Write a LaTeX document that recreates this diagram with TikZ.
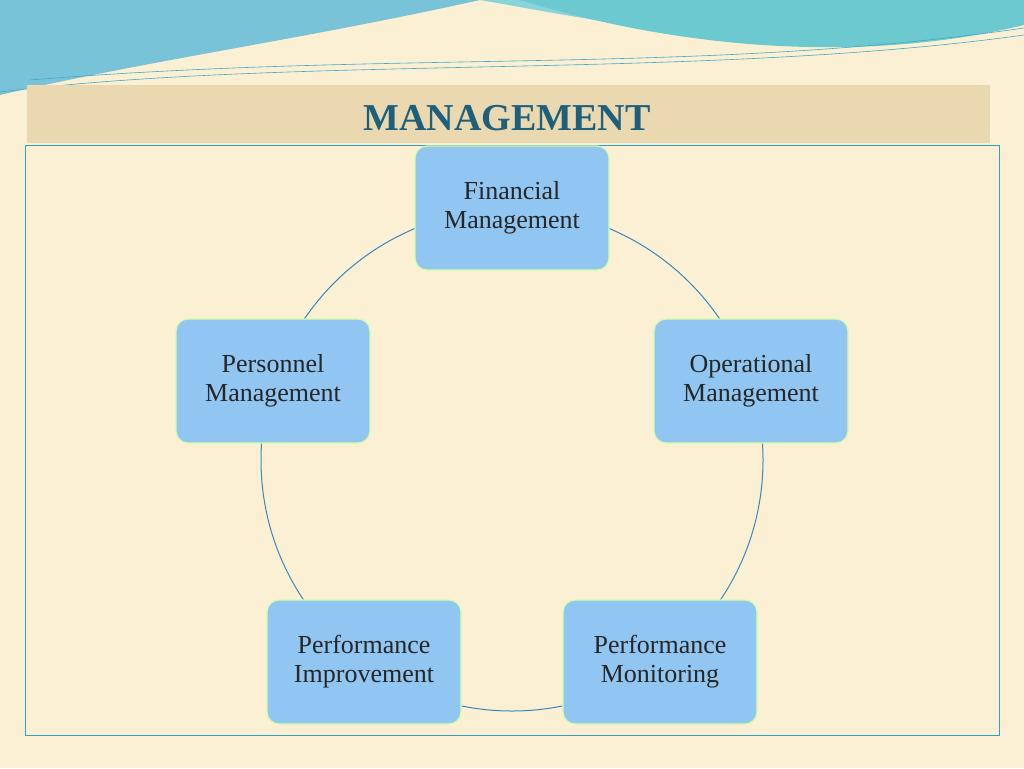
\documentclass[tikz,border=0pt]{standalone}
\usepackage{fontspec}
\setmainfont{Liberation Serif}
\newfontfamily\titlefont{Liberation Serif}
\begin{document}
\begin{tikzpicture}[x=1pt,y=-1pt,
  mbox/.style={draw=green!30!lime!35!white, line width=1.2pt, fill=boxblue, rounded corners=12pt,
    minimum width=194pt, minimum height=124pt, align=center, font=\fontsize{26}{29}\selectfont, text=black!85},
  ring/.style={draw=ringblue, line width=1pt}]
\definecolor{cream}{HTML}{FBF0D3}
\definecolor{tan}{HTML}{E9D8B0}
\definecolor{boxblue}{HTML}{92C6F2}
\definecolor{ringblue}{HTML}{3A86C0}
\definecolor{teal1}{HTML}{6CC9D0}
\definecolor{teal2}{HTML}{3FA9C9}
\definecolor{framec}{HTML}{2FA0C0}
\definecolor{titlec}{HTML}{1E5F7C}
\useasboundingbox (0,0) rectangle (1024,768);
\fill[cream] (0,0) rectangle (1024,768);
% top waves
\fill[teal2!70!white] (0,0) -- (480,0) .. controls (300,40) and (150,60) .. (0,95) -- cycle;
\fill[teal1!80!white] (0,0) -- (1024,0) -- (1024,20) .. controls (850,70) and (650,30) .. (480,0) -- cycle;
\fill[teal1] (520,0) .. controls (700,55) and (880,60) .. (1024,25) -- (1024,0) -- cycle;
\draw[teal2, line width=0.6pt] (0,92) .. controls (300,55) and (700,80) .. (1024,35);
\draw[teal2, line width=0.6pt] (30,80) .. controls (400,50) and (700,75) .. (1024,28);
% header band
\fill[tan] (27,85) rectangle (990,143);
\node[font=\titlefont\bfseries\fontsize{38}{40}\selectfont, text=titlec] (title) at (507,118) {MANAGEMENT};
% content frame
\draw[framec, line width=1pt] (25,145) rectangle (999,735);
% ring
\draw[ring] (512,460) circle (251pt);
\node[mbox] (fin) at (512,208) {Financial\\Management};
\node[mbox] (op) at (751,381) {Operational\\Management};
\node[mbox] (pm) at (660,662) {Performance\\Monitoring};
\node[mbox] (pi) at (364,662) {Performance\\Improvement};
\node[mbox] (per) at (273,381) {Personnel\\Management};
\end{tikzpicture}
\end{document}
